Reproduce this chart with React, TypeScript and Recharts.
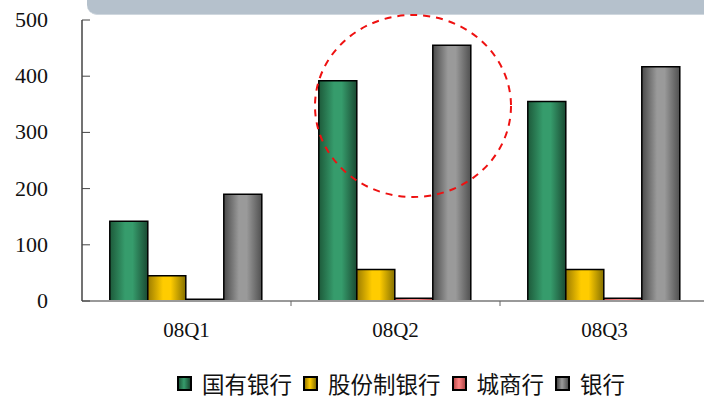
import React from 'react';
import { BarChart, Bar, XAxis, YAxis } from 'recharts';

const quarters = ['08Q1', '08Q2', '08Q3'];
const stateOwned = [142, 392, 355];
const jointStock = [45, 56, 56];
const cityBanks = [3, 5, 5];
const allBanks = [190, 455, 417];
const yTicks = [0, 100, 200, 300, 400, 500];

const series = [
  { key: 'stateOwned', name: '国有银行', grad: 'gGreen', dark: '#1d5a3a', light: '#369c6c', edge: '#1a4a32' },
  { key: 'jointStock', name: '股份制银行', grad: 'gYellow', dark: '#9c7c00', light: '#ffcc00', edge: '#857000' },
  { key: 'cityBanks', name: '城商行', grad: 'gRed', dark: '#c05050', light: '#ff8484', edge: '#b04848' },
  { key: 'allBanks', name: '银行', grad: 'gGrey', dark: '#4a4a4a', light: '#9a9a9a', edge: '#505050' }
];

const rows = quarters.map((q, i) => ({
  quarter   : q,
  stateOwned: stateOwned[i],
  jointStock: jointStock[i],
  cityBanks : cityBanks[i],
  allBanks  : allBanks[i]
}));

const SERIF = '"Liberation Serif", "Times New Roman", serif';
const CJK = '"Noto Sans CJK SC", sans-serif';

// value labels on the left, short tick marks pointing into the plot
const ValueTick = (props: any) => {
  const { x, y, payload } = props;
  return (
    <g>
      <line x1={x} x2={x + 8} y1={y} y2={y} stroke="#444" strokeWidth={1} />
      <text x={48} y={y + 7} textAnchor="end" fontFamily={SERIF} fontSize={22} fill="#111">
        {payload.value}
      </text>
    </g>
  );
};

// quarter label in the band centre, divider tick on the band's right edge
const QuarterTick = (props: any) => {
  const { x, y, payload } = props;
  const half = payload.offset ?? 0;
  return (
    <g>
      <line x1={x + half} x2={x + half} y1={y} y2={y + 5} stroke="#666" strokeWidth={1} />
      <text x={x} y={y + 36} textAnchor="middle" fontFamily={SERIF} fontSize={21} fill="#111">
        {payload.value}
      </text>
    </g>
  );
};

export default function App () {
  return (
    <div style={{ position: 'absolute', left: 0, top: 0, width: 704, height: 400, background: '#fff' }}>
      <div
        style={{
          position              : 'absolute',
          left                  : 87,
          top                   : 0,
          width                 : 617,
          height                : 14,
          background            : '#b5c1cc',
          borderBottomLeftRadius: 10,
          borderBottom          : '1px solid #cfd7de'
        }}
      />
      <BarChart
        width={704}
        height={400}
        data={rows}
        margin={{ top: 20, right: -5, left: 0, bottom: 0 }}
        barCategoryGap="13.3%"
        barGap={0}
      >
        <defs>
          {series.map(s => (
            <linearGradient key={s.grad} id={s.grad} x1="0" y1="0" x2="1" y2="0">
              <stop offset="0%" stopColor={s.dark} />
              <stop offset="40%" stopColor={s.light} />
              <stop offset="60%" stopColor={s.light} />
              <stop offset="100%" stopColor={s.edge} />
            </linearGradient>
          ))}
        </defs>
        <XAxis
          dataKey="quarter"
          height={99}
          tickSize={0}
          tickMargin={0}
          tickLine={false}
          axisLine={{ stroke: '#999', strokeWidth: 2 }}
          tick={<QuarterTick />}
          interval={0}
        />
        <YAxis
          width={82}
          domain={[0, 500]}
          ticks={yTicks}
          tickSize={0}
          tickMargin={0}
          tickLine={false}
          axisLine={{ stroke: '#444', strokeWidth: 1.5 }}
          tick={<ValueTick />}
          interval={0}
        />
        {series.map(s => (
          <Bar
            key={s.key}
            dataKey={s.key}
            name={s.name}
            fill={`url(#${s.grad})`}
            stroke="#000"
            strokeWidth={1.5}
            isAnimationActive={false}
          />
        ))}
      </BarChart>
      <svg style={{ position: 'absolute', left: 0, top: 0 }} width={704} height={400} pointerEvents="none">
        <ellipse cx={413} cy={106} rx={98} ry={91} fill="none" stroke="#ee1111" strokeWidth={2} strokeDasharray="7 6" />
      </svg>
      <div
        style={{
          position  : 'absolute',
          left      : 177,
          top       : 367,
          width     : 500,
          display   : 'flex',
          alignItems: 'center',
          gap       : 11,
          fontFamily: CJK,
          fontSize  : 22.5,
          lineHeight: 'normal',
          color     : '#111',
          whiteSpace: 'nowrap'
        }}
      >
        {series.map(s => (
          <div key={s.key} style={{ display: 'flex', alignItems: 'center', flexShrink: 0, gap: 10 }}>
            <span
              style={{
                display   : 'inline-block',
                flexShrink: 0,
                width     : 11,
                height    : 11,
                border    : '2px solid #000',
                background: `linear-gradient(to right, ${s.dark}, ${s.light} 45%, ${s.edge})`
              }}
            />
            <span>{s.name}</span>
          </div>
        ))}
      </div>
    </div>
  );
}
